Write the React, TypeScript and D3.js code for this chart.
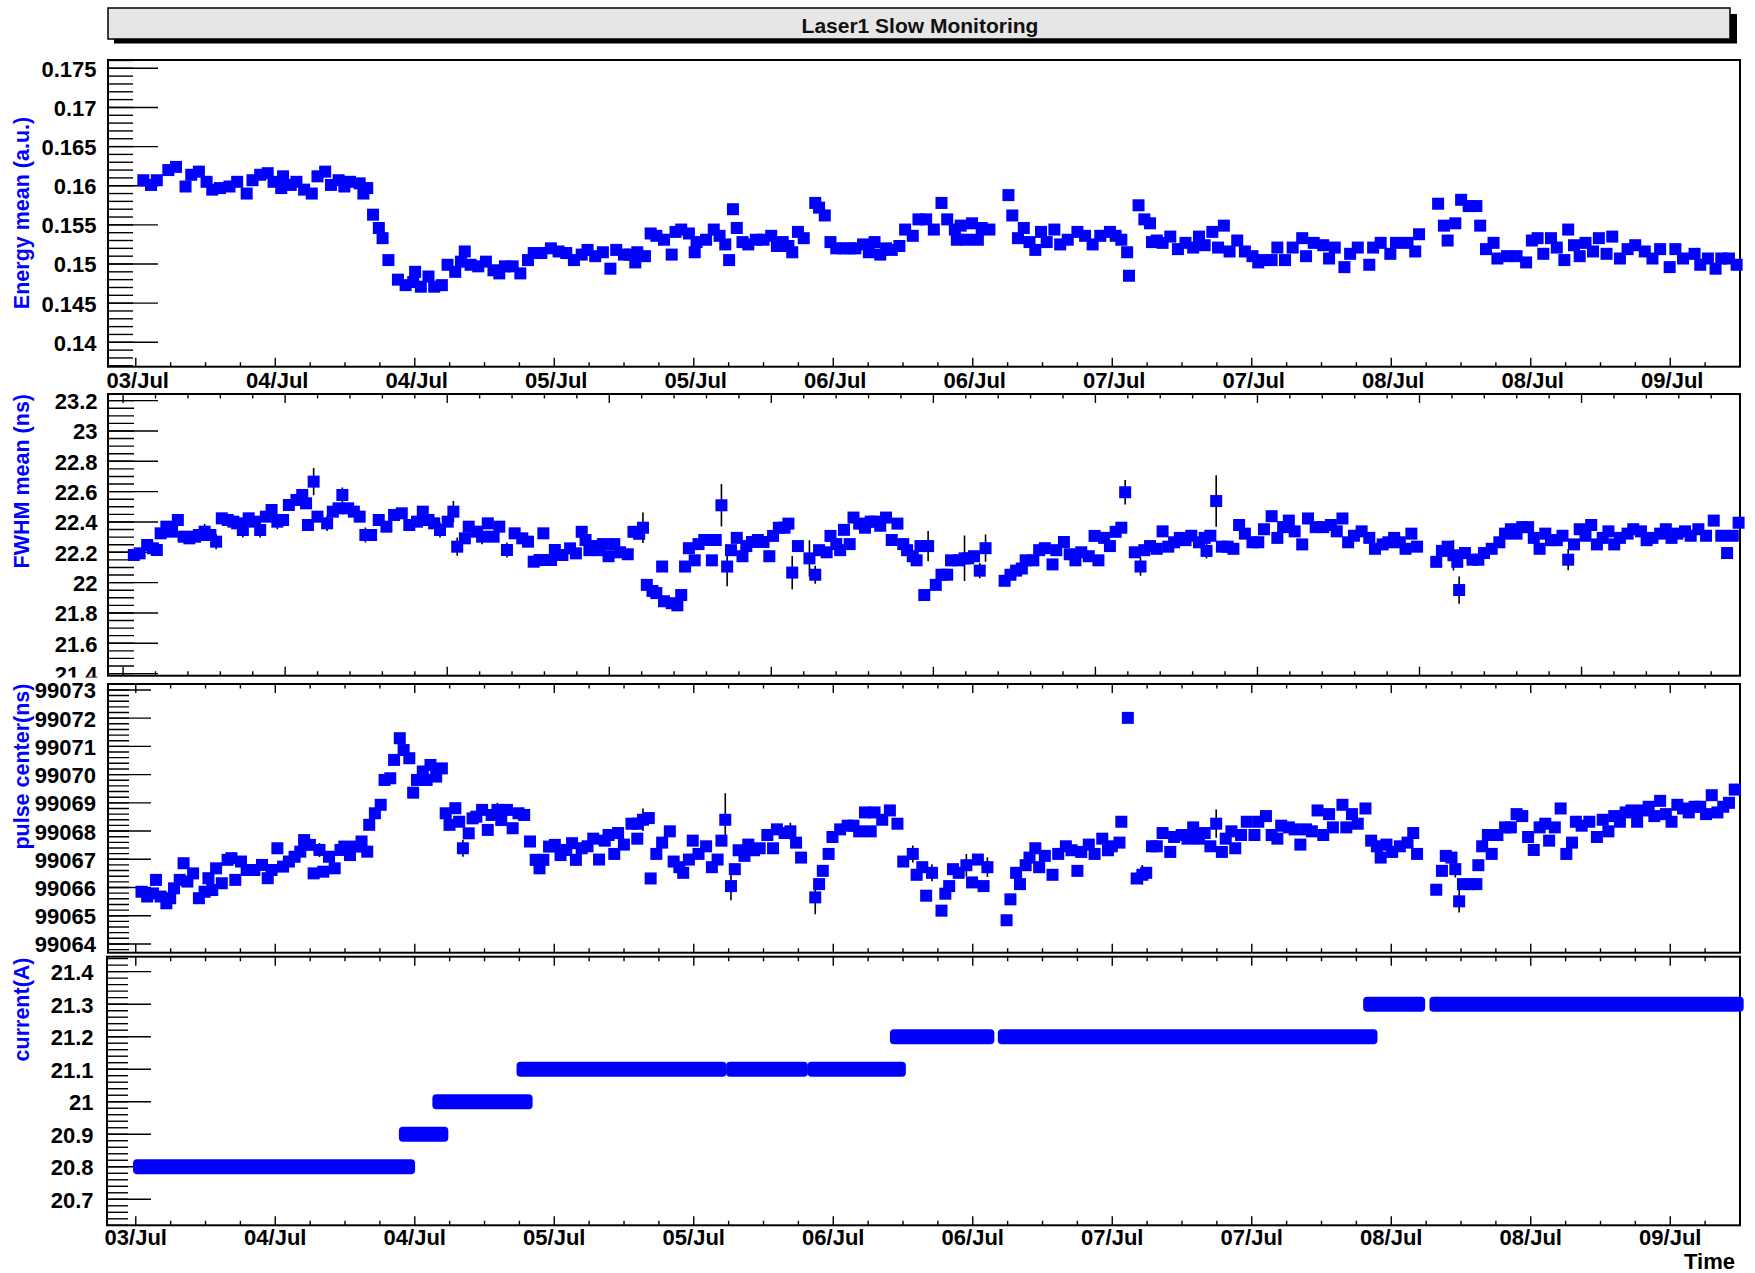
import React from "react";
import * as d3 from "d3";

if (typeof document !== "undefined" && document.body) {
  document.body.style.margin = "0";
}

// ---------- time axis (hours since 03/Jul 12:00) ----------
const T0 = Date.UTC(2011, 6, 3, 12, 0, 0);
const HOUR = 3600 * 1000;
const toDate = (h: number) => new Date(T0 + h * HOUR);
const timeStartHours = -2.39;
const timeEndHours = 138.0;

const dayTickHours = [0, 12, 24, 36, 48, 60, 72, 84, 96, 108, 120, 132];
const dayTickLabels = ["03/Jul", "04/Jul", "04/Jul", "05/Jul", "05/Jul", "06/Jul", "06/Jul", "07/Jul", "07/Jul", "08/Jul", "08/Jul", "09/Jul"];
const fwhmTickOrigin = -1.09;
const fwhmTickStep = 13.94;

// ---------- y ticks ----------
const energyTicks = [0.14, 0.145, 0.15, 0.155, 0.16, 0.165, 0.17, 0.175];
const energyTickLabels = ["0.14", "0.145", "0.15", "0.155", "0.16", "0.165", "0.17", "0.175"];
const fwhmTicks = [21.4, 21.6, 21.8, 22, 22.2, 22.4, 22.6, 22.8, 23, 23.2];
const fwhmTickLabels = ["21.4", "21.6", "21.8", "22", "22.2", "22.4", "22.6", "22.8", "23", "23.2"];
const pulseTicks = [99064, 99065, 99066, 99067, 99068, 99069, 99070, 99071, 99072, 99073];
const pulseTickLabels = ["99064", "99065", "99066", "99067", "99068", "99069", "99070", "99071", "99072", "99073"];
const currentTicks = [20.7, 20.8, 20.9, 21, 21.1, 21.2, 21.3, 21.4];
const currentTickLabels = ["20.7", "20.8", "20.9", "21", "21.1", "21.2", "21.3", "21.4"];

// ---------- data: [hours, value, error?] ----------
const energyMean: number[][] = [
  [0.65,0.1607],[1.31,0.1601],[1.81,0.1607],[2.80,0.1620],[3.46,0.1624],[4.28,0.1599],[4.77,0.1614],[5.43,0.1618],[6.09,0.1605],[6.58,0.1595],
  [7.24,0.1597],[8.06,0.1599],[8.72,0.1605],[9.54,0.1590],[10.04,0.1607],[10.70,0.1614],[11.35,0.1616],[11.85,0.1605],[12.51,0.1597],[12.67,0.1612],
  [13.33,0.1601],[13.82,0.1605],[14.48,0.1595],[15.14,0.1590],[15.63,0.1612],[16.29,0.1618],[16.79,0.1601],[17.45,0.1607],[17.94,0.1599],[18.43,0.1605],
  [19.26,0.1603],[19.58,0.1590],[19.91,0.1597],[20.41,0.1563],[20.91,0.1546],[21.23,0.1533],[21.73,0.1505],[22.55,0.1480],[23.21,0.1473],[23.87,0.1477],
  [24.03,0.1490],[24.52,0.1471],[25.18,0.1484],[25.67,0.1471],[26.33,0.1473],[26.82,0.1499],[27.48,0.1490],[27.97,0.1503],[28.30,0.1516],[28.80,0.1499],
  [29.46,0.1497],[30.12,0.1503],[30.77,0.1492],[31.27,0.1488],[31.76,0.1497],[32.42,0.1497],[33.08,0.1488],[33.74,0.1505],[34.23,0.1514],[34.89,0.1514],
  [35.71,0.1520],[36.37,0.1516],[37.03,0.1514],[37.69,0.1505],
  [38.36,0.1512],[38.86,0.1518],[39.52,0.1510],[40.18,0.1515],[40.83,0.1494],[41.33,0.1518],[41.99,0.1512],[42.48,0.1512],[42.97,0.1502],[43.14,0.1515],
  [43.80,0.1510],[44.29,0.1539],[44.78,0.1536],[45.44,0.1531],[46.10,0.1512],[46.43,0.1541],[46.92,0.1544],[47.58,0.1539],[48.08,0.1515],[48.24,0.1528],
  [49.06,0.1531],[49.72,0.1544],[50.22,0.1536],[50.71,0.1525],[51.04,0.1505],[51.37,0.1570],[51.70,0.1546],[52.19,0.1528],[52.69,0.1525],[53.34,0.1531],
  [54.00,0.1531],[54.66,0.1536],[55.15,0.1523],[55.65,0.1528],[56.14,0.1523],[56.47,0.1515],[56.96,0.1541],[57.46,0.1533],[58.45,0.1578],[58.78,0.1572],
  [59.27,0.1562],[59.76,0.1528],[60.26,0.1520],[60.92,0.1520],[61.41,0.1520],[61.90,0.1520],[62.56,0.1525],[63.06,0.1515],[63.55,0.1528],[64.04,0.1512],
  [64.54,0.1520],[65.03,0.1518],[65.69,0.1523],[66.18,0.1544],[66.84,0.1536],[67.33,0.1557],[67.99,0.1557],[68.65,0.1544],[69.31,0.1578],[69.80,0.1557],
  [70.46,0.1544],[70.63,0.1531],[70.96,0.1549],[71.45,0.1531],[71.94,0.1552],[72.44,0.1531],[72.77,0.1546],[73.43,0.1544],[75.07,0.1588],[75.40,0.1562],
  [75.89,0.1533],[76.39,0.1546],[76.88,0.1528],[77.38,0.1518],[77.87,0.1541],[78.36,0.1528],[79.02,0.1544],[79.52,0.1525],[80.17,0.1531],[81.00,0.1541],
  [81.66,0.1536],[82.31,0.1525],[82.97,0.1536],[83.80,0.1541],[84.29,0.1536],[84.78,0.1531],[85.28,0.1515],[85.44,0.1485],[86.26,0.1575],[86.76,0.1557],
  [87.25,0.1552],[87.42,0.1528],
  [87.83,0.1530],[88.33,0.1527],[88.99,0.1535],[89.65,0.1519],[90.30,0.1527],[90.96,0.1521],[91.46,0.1535],[91.95,0.1524],[92.61,0.1541],[93.10,0.1521],
  [93.60,0.1549],[94.09,0.1516],[94.75,0.1530],[95.41,0.1516],[96.06,0.1510],[96.56,0.1502],[97.05,0.1505],[97.71,0.1505],[98.20,0.1521],[98.86,0.1505],
  [99.52,0.1521],[100.34,0.1533],[100.67,0.1510],[101.33,0.1527],[102.15,0.1524],[102.65,0.1507],[103.14,0.1521],[103.97,0.1496],[104.46,0.1513],[105.12,0.1521],
  [106.11,0.1499],[106.44,0.1521],[107.09,0.1527],[107.92,0.1513],[108.41,0.1527],[109.40,0.1527],[110.06,0.1516],[110.39,0.1538],[112.03,0.1577],[112.53,0.1549],
  [112.85,0.1530],[113.51,0.1552],[114.01,0.1582],[114.66,0.1574],[115.32,0.1574],[115.65,0.1549],[116.15,0.1519],[116.80,0.1527],[117.13,0.1507],[117.96,0.1510],
  [118.78,0.1510],[119.60,0.1502],[120.10,0.1530],[120.59,0.1533],[121.08,0.1513],[121.74,0.1533],[122.24,0.1521],[122.89,0.1505],[123.22,0.1544],[123.72,0.1524],
  [124.21,0.1510],[124.71,0.1527],[125.36,0.1516],[125.86,0.1533],[126.52,0.1513],[127.01,0.1535],[127.67,0.1507],[128.33,0.1519],[128.99,0.1524],[129.81,0.1516],
  [130.47,0.1507],[131.13,0.1519],[131.95,0.1496],[132.44,0.1519],[133.10,0.1507],[134.09,0.1513],[134.58,0.1499],[135.24,0.1507],[135.90,0.1494],[136.39,0.1507],
  [137.05,0.1507],[137.71,0.1499],
];

const fwhmMean: number[][] = [
  [-0.17,22.182],[0.33,22.193],[0.98,22.248],[1.48,22.226],[1.81,22.215],[2.14,22.325],[2.63,22.369],[3.12,22.336],[3.62,22.413],[4.11,22.303],
  [4.61,22.292],[5.10,22.303],[5.43,22.314],[5.92,22.336,0.05],[6.42,22.314],[6.91,22.270,0.05],[7.40,22.424],[7.90,22.413],[8.39,22.402],[8.72,22.391],
  [9.21,22.347,0.05],[9.71,22.424],[10.20,22.402],[10.70,22.347,0.05],[11.19,22.435],[11.68,22.479],[12.18,22.402,0.05],[12.67,22.413],[13.17,22.512],[13.82,22.545],
  [14.32,22.578],[14.65,22.523],[15.30,22.666,0.09],[14.81,22.380],[15.63,22.435],[16.46,22.391,0.05],[16.95,22.468],[17.44,22.490],[17.77,22.578,0.05],[18.27,22.490],
  [18.76,22.468],[19.26,22.435],[19.75,22.314,0.05],[20.24,22.314],[20.90,22.413],[21.56,22.369],[22.22,22.446],[22.88,22.457],[23.53,22.380],[24.19,22.402],
  [24.69,22.468],[25.18,22.413],[25.67,22.391],[26.17,22.347,0.05],[26.83,22.402],[27.32,22.468,0.07],[27.65,22.237,0.06],[28.31,22.292],[28.64,22.369],[29.30,22.336],
  [29.79,22.303,0.05],[30.28,22.391],[30.78,22.303],[31.27,22.369],[31.93,22.215,0.05],[32.59,22.325],[33.25,22.292],[33.74,22.270],[34.23,22.138],[34.73,22.149],
  [35.06,22.325],[35.72,22.149],[36.05,22.215],[36.70,22.182],[37.36,22.226],[37.86,22.193],
  [38.36,22.335],[38.69,22.281],[39.02,22.214],[39.52,22.241],[39.85,22.214],[40.18,22.254],[40.67,22.174],[41.16,22.254],[41.66,22.200],[42.32,22.187],
  [42.81,22.335],[43.30,22.322],[43.63,22.362,0.1],[43.96,21.985],[44.45,21.945],[44.78,21.931],[45.28,22.106],[45.44,21.877],[46.10,21.864],[46.59,21.850],
  [46.92,21.918],[47.25,22.106],[47.58,22.227],[48.08,22.147],[48.41,22.254],[48.90,22.281],[49.56,22.147],[49.89,22.281],[50.38,22.510,0.14],[50.87,22.106,0.13],
  [51.20,22.214],[51.70,22.295],[52.19,22.174],[52.52,22.241],[53.01,22.268],[53.51,22.281],[54.00,22.268],[54.50,22.174],[54.82,22.308],[55.32,22.362],
  [55.81,22.362],[56.14,22.389],[56.47,22.066,0.11],[56.96,22.241],[57.95,22.160,0.12],[58.45,22.052,0.06],[58.78,22.214],[59.43,22.200],[59.76,22.308],[60.26,22.254],
  [60.59,22.214],[60.92,22.348],[61.41,22.254],[61.74,22.429],[62.23,22.389],[62.73,22.362],[63.22,22.402],[63.55,22.402],[64.04,22.375],[64.54,22.429],
  [65.03,22.281],[65.52,22.389],[66.02,22.254],[66.35,22.214],[66.84,22.174],[67.17,22.147],[67.50,22.241],[67.83,21.918],[68.16,22.241,0.1],[68.82,21.985],
  [69.31,22.052],[69.80,22.052],[70.13,22.147],[70.79,22.147],[71.29,22.160,0.15],[71.61,22.160],[72.11,22.174],[72.60,22.079,0.05],[73.10,22.227,0.09],[74.74,22.012],
  [75.24,22.052],[75.73,22.079],[76.22,22.093],[76.55,22.147],[77.21,22.147],[77.71,22.214],[78.20,22.227],[78.86,22.120],[79.19,22.214],[79.84,22.268],
  [80.34,22.187],[80.83,22.147],[81.33,22.200],[81.98,22.174],[82.48,22.308],[82.81,22.147],[83.30,22.295],[83.80,22.241],[84.29,22.335],[84.78,22.362],
  [85.11,22.596,0.08],[85.94,22.200],[86.43,22.106,0.06],[86.76,22.214],[87.25,22.241],
  [87.83,22.223],[88.33,22.338],[88.82,22.237],[89.32,22.266],[89.81,22.295],[90.30,22.280],[90.80,22.309],[91.46,22.266],[91.95,22.295],[92.11,22.209,0.05],
  [92.44,22.309],[92.94,22.538,0.17],[93.43,22.237],[93.93,22.237],[94.42,22.223],[94.91,22.380],[95.41,22.323],[96.06,22.266],[96.56,22.266],[97.05,22.352],
  [97.71,22.438],[98.20,22.295],[98.70,22.366],[99.19,22.409],[99.69,22.338],[100.34,22.252],[100.84,22.423],[101.50,22.366],[102.15,22.366],[102.81,22.380],
  [103.31,22.338],[103.80,22.423],[104.29,22.266],[104.79,22.309],[105.45,22.338],[106.11,22.295],[106.60,22.223],[107.26,22.252],[107.75,22.266],[108.25,22.295],
  [108.74,22.266],[109.23,22.223],[109.73,22.323],[110.22,22.237],[111.87,22.137],[112.36,22.209],[112.85,22.237],[113.35,22.180,0.1],[113.68,22.137],[113.84,21.951,0.09],
  [114.34,22.195],[114.99,22.151],[115.49,22.151],[115.98,22.195],[116.64,22.223],[117.30,22.266],[117.79,22.323],[118.29,22.352],[118.78,22.323],[119.27,22.366],
  [119.77,22.366],[120.26,22.295],[120.76,22.223],[121.25,22.323],[121.74,22.280],[122.24,22.280],[122.73,22.309],[123.22,22.151,0.07],[123.72,22.252],[124.21,22.352],
  [124.71,22.309],[125.20,22.380],[125.69,22.252],[126.19,22.295],[126.68,22.338],[127.18,22.252],[127.67,22.295],[128.33,22.323],[128.82,22.352],[129.48,22.338],
  [129.97,22.280],[130.47,22.295],[131.13,22.323],[131.62,22.352],[132.11,22.295],[132.61,22.323],[133.27,22.338],[133.76,22.309],[134.42,22.352],[135.08,22.309],
  [135.74,22.409],[136.39,22.309],[136.89,22.195],[137.38,22.309],[137.88,22.395],
];

const pulseCenter: number[][] = [
  [0.49,99065.85],[0.98,99065.68],[1.48,99065.79],[1.74,99066.27],[2.14,99065.68],[2.63,99065.44],[2.96,99065.62],[3.29,99065.97],[3.78,99066.27],[4.11,99066.86,0.2],
  [4.44,99066.21],[4.93,99066.50],[5.43,99065.62],[5.92,99065.85],[6.25,99066.33],[6.58,99065.91],[6.91,99066.68],[7.40,99066.15],[7.90,99066.98],[8.23,99067.04],
  [8.56,99066.27],[9.05,99066.92],[9.54,99066.62],[10.20,99066.62],[10.86,99066.80],[11.35,99066.33],[11.68,99066.62],[12.18,99067.39],[12.67,99066.74],[13.17,99066.92],
  [13.66,99067.09],[14.15,99067.27],[14.48,99067.68],[14.98,99067.51],[15.30,99066.50],[15.80,99067.33,0.25],[16.13,99066.56],[16.62,99067.09],[17.11,99066.68],[17.61,99067.33],
  [17.94,99067.45],[18.43,99067.15],[18.93,99067.45],[19.42,99067.63],[19.91,99067.27],[20.08,99068.22],[20.57,99068.63],[21.07,99068.93],[21.40,99069.81],[21.89,99069.87],
  [22.22,99070.52],[22.71,99071.29],[23.04,99070.87],[23.53,99070.58],[23.86,99069.36],[24.19,99069.81],[24.69,99070.11],[25.02,99069.81],[25.35,99070.34],[25.84,99069.93],
  [26.33,99070.22],[26.66,99068.63],[26.99,99068.22],[27.49,99068.81],[27.82,99068.33],[28.14,99067.39,0.3],[28.64,99067.92],[28.97,99068.45],[29.30,99068.51],[29.79,99068.75],
  [30.28,99068.04],[30.61,99068.57],[31.11,99068.75,0.25],[31.44,99068.39],[31.93,99068.75],[32.42,99068.10],[32.92,99068.63],[33.41,99068.57],[33.91,99067.63],[34.40,99066.98],
  [34.73,99066.68],[35.06,99066.98],[35.55,99067.45],[36.05,99067.51],[36.54,99067.15],[37.03,99067.33],[37.53,99067.57],[37.86,99066.98],
  [38.36,99067.39],[38.86,99067.46],[39.35,99067.73],[39.85,99066.99],[40.34,99067.66],[40.67,99067.86],[41.16,99067.19],[41.49,99067.93],[41.99,99067.52],[42.64,99068.26],
  [43.14,99068.26],[43.14,99067.73],[43.63,99068.40,0.4],[44.13,99068.46],[44.29,99066.32,0.2],[44.78,99067.19],[45.28,99067.59],[45.94,99067.99],[46.27,99066.92],[46.76,99066.72],
  [47.09,99066.52],[47.58,99066.99],[47.91,99067.66],[48.41,99067.19],[49.06,99067.46],[49.56,99066.72],[50.05,99066.99],[50.38,99067.66],[50.71,99068.40,0.94],[51.20,99066.05,0.5],
  [51.53,99066.65],[51.86,99067.32],[52.36,99067.12],[52.69,99067.52],[53.18,99067.32],[53.67,99067.39],[54.33,99067.86],[54.82,99067.39],[55.15,99068.06],[55.81,99067.93],
  [56.31,99067.99,0.3],[56.80,99067.59],[57.23,99067.06],[58.45,99065.65,0.6],[58.78,99066.12],[59.10,99066.59],[59.60,99067.19],[59.93,99067.79],[60.59,99068.06],[61.24,99068.19],
  [61.74,99068.19],[62.23,99067.99],[62.73,99068.66],[63.22,99067.99],[63.55,99068.66],[64.21,99068.40],[64.87,99068.73],[65.52,99068.26],[66.02,99066.92],[66.84,99067.19,0.3],
  [67.17,99066.45],[67.66,99066.72],[67.99,99065.71],[68.49,99066.52,0.3],[69.31,99065.18],[69.64,99065.78],[69.97,99066.05],[70.30,99066.65],[70.79,99066.52],[71.45,99066.79,0.4],
  [71.94,99066.18],[72.44,99066.99],[72.93,99066.05],[73.26,99066.72,0.35],[74.91,99064.84],[75.24,99065.58],[75.73,99066.52],[76.06,99066.12],[76.55,99066.79],[76.88,99067.06],
  [77.38,99067.39],[77.71,99066.72],[78.20,99067.12],[78.86,99066.45],[79.35,99067.19],[80.01,99067.46],[80.50,99067.32],[81.00,99066.59],[81.33,99067.26],[81.98,99067.52],
  [82.48,99067.19],[83.14,99067.73],[83.63,99067.32],[83.96,99067.46],[84.62,99067.59],[84.78,99068.33],[85.34,99072.01],[86.10,99066.32],[86.59,99066.45,0.35],[86.92,99066.52],
  [87.42,99067.46],
  [87.83,99067.46],[88.33,99067.93],[88.99,99067.26],[89.32,99067.79],[89.97,99067.86],[90.47,99067.73],[90.96,99068.13],[91.46,99067.73],[91.95,99067.93],[92.44,99067.46],
  [92.94,99068.26,0.5],[93.43,99067.26],[93.76,99067.73],[94.25,99067.99],[94.58,99067.39],[95.08,99067.86],[95.57,99068.33],[96.23,99067.86],[96.56,99068.33],[97.22,99068.53],
  [97.71,99067.86],[98.20,99067.73],[98.53,99068.19],[99.19,99068.13],[99.69,99068.06],[100.18,99067.52],[100.67,99068.06],[101.17,99067.99],[101.66,99068.73],[102.15,99067.86],
  [102.65,99068.60],[102.98,99068.13],[103.80,99068.93],[104.13,99068.13],[104.62,99068.60],[105.12,99068.26],[105.78,99068.80],[106.27,99067.66],[106.76,99067.46],[107.09,99067.06],
  [107.59,99067.52],[108.08,99067.26],[108.74,99067.46],[109.40,99067.59],[109.89,99067.93],[110.22,99067.19],[111.87,99065.92],[112.36,99066.59],[112.69,99067.12],[113.18,99067.06],
  [113.51,99066.65,0.3],[113.84,99065.51,0.4],[114.17,99066.12],[114.83,99066.12],[115.32,99066.12],[115.49,99066.79],[115.82,99067.46],[116.31,99067.86],[116.64,99067.19],[117.13,99067.86],
  [117.79,99068.13],[118.29,99068.13],[118.78,99068.60],[119.27,99068.53],[119.77,99067.79],[120.26,99067.33,0.2],[120.76,99068.13],[121.25,99068.26],[121.58,99067.66],[122.07,99068.13],
  [122.57,99068.80],[123.06,99067.19,0.2],[123.55,99067.59],[123.88,99068.33],[124.38,99068.19],[125.04,99068.33],[125.69,99067.79],[126.19,99068.40],[126.68,99067.99],[127.18,99068.53],
  [127.67,99068.33],[128.16,99068.66],[128.66,99068.73],[129.15,99068.33],[129.65,99068.73],[130.14,99068.86],[130.63,99068.53],[131.13,99069.07],[131.62,99068.60],[132.11,99068.33],
  [132.61,99068.93],[133.10,99068.80],[133.59,99068.66],[134.09,99068.86],[134.58,99068.86],[135.08,99068.60],[135.57,99069.27],[136.06,99068.66],[136.56,99068.86],[137.05,99069.00],
  [137.55,99069.47],
];

// laser current: constant-value runs (first / last sample hour, value)
const currentRunStart = [0.28, 23.15, 26.03, 33.27, 51.3, 58.3, 65.39, 74.67, 106.1, 111.8];
const currentRunEnd = [23.51, 26.37, 33.62, 50.3, 57.3, 65.73, 73.34, 106.3, 110.4, 137.8];
const currentRunValue = [20.8, 20.9, 21.0, 21.1, 21.1, 21.1, 21.2, 21.2, 21.3, 21.3];

// ---------- layout ----------
const W = 1755;
const H = 1273;
const X0 = 108;
const X1 = 1740;
const FONT = '"Liberation Sans", Arial, Helvetica, sans-serif';
const BLUE = "#0000ff";
const MARK = 12;

const x = d3.scaleUtc().domain([toDate(timeStartHours), toDate(timeEndHours)]).range([X0, X1]);

function timeTicks(origin: number, step: number, nMinor: number) {
  const ms = step / nMinor;
  const majors: number[] = [];
  const minors: number[] = [];
  const k0 = Math.ceil((timeStartHours - origin) / ms);
  const k1 = Math.floor((timeEndHours - 0.2 - origin) / ms);
  for (let k = k0; k <= k1; k++) {
    const h = origin + k * ms;
    if (((k % nMinor) + nMinor) % nMinor === 0) majors.push(h);
    else minors.push(h);
  }
  return { majors, minors };
}

function valueMinors(domain: number[], step: number) {
  const out: number[] = [];
  const i0 = Math.ceil(domain[0] / step - 1e-6);
  const i1 = Math.floor(domain[1] / step + 1e-6);
  for (let i = i0; i <= i1; i++) out.push(i * step);
  return out;
}

type PanelCfg = {
  id: string;
  top: number;
  bottom: number;
  padTop: number;
  padBottom: number;
  left: number;
  domain: number[];
  ticks: number[];
  tickLabels: string[];
  minorStep: number;
  yMajorLen: number;
  yMinorLen: number;
  labelX: number;
  title: string;
  titleAnchor: string;
  titleY: number;
  timeTickSet: { majors: number[]; minors: number[] };
  topTicks: boolean;
  timeLabelsY: number | null;
  timeLabelDx: number;
};

const dayTicks = timeTicks(0, 12, 4);
const fwhmTimeTicks = timeTicks(fwhmTickOrigin, fwhmTickStep, 5);

const panels: PanelCfg[] = [
  {
    id: "p1", top: 60, bottom: 366.7, padTop: 0, padBottom: 391, left: X0,
    domain: [0.13688, 0.17606], ticks: energyTicks, tickLabels: energyTickLabels, minorStep: 0.001,
    yMajorLen: 50, yMinorLen: 25, labelX: 96.5, title: "Energy mean (a.u.)", titleAnchor: "middle", titleY: 213,
    timeTickSet: dayTicks, topTicks: false, timeLabelsY: 388.3, timeLabelDx: 2,
  },
  {
    id: "p2", top: 394, bottom: 675.7, padTop: 391, padBottom: 677.6, left: X0,
    domain: [21.386, 23.244], ticks: fwhmTicks, tickLabels: fwhmTickLabels, minorStep: 0.05,
    yMajorLen: 50, yMinorLen: 26, labelX: 97.5, title: "FWHM mean (ns)", titleAnchor: "end", titleY: 394,
    timeTickSet: fwhmTimeTicks, topTicks: true, timeLabelsY: null, timeLabelDx: 0,
  },
  {
    id: "p3", top: 684, bottom: 952.7, padTop: 683, padBottom: 954.7, left: X0,
    domain: [99063.69, 99073.21], ticks: pulseTicks, tickLabels: pulseTickLabels, minorStep: 0.2,
    yMajorLen: 43, yMinorLen: 21, labelX: 96, title: "pulse center(ns)", titleAnchor: "end", titleY: 683.5,
    timeTickSet: dayTicks, topTicks: true, timeLabelsY: null, timeLabelDx: 0,
  },
  {
    id: "p4", top: 956.7, bottom: 1225.3, padTop: 954.7, padBottom: H, left: 107,
    domain: [20.62, 21.446], ticks: currentTicks, tickLabels: currentTickLabels, minorStep: 0.02,
    yMajorLen: 44, yMinorLen: 21, labelX: 93.5, title: "current(A)", titleAnchor: "end", titleY: 957.5,
    timeTickSet: dayTicks, topTicks: true, timeLabelsY: 1245, timeLabelDx: 0,
  },
];

function PanelAxes({ p, y }: { p: PanelCfg; y: d3.ScaleLinear<number, number> }) {
  const tickStroke = { stroke: "#000", strokeWidth: 1.4 };
  const minors = valueMinors(p.domain, p.minorStep);
  const xMaj = 9;
  const xMin = 4.5;
  return (
    <g>
      {minors.map((v, i) => (
        <line key={"ym" + i} x1={p.left} x2={p.left + p.yMinorLen} y1={y(v)} y2={y(v)} {...tickStroke} />
      ))}
      {p.ticks.map((v, i) => (
        <g key={"yM" + i}>
          <line x1={p.left} x2={p.left + p.yMajorLen} y1={y(v)} y2={y(v)} {...tickStroke} />
          <text x={p.labelX} y={y(v) + 8.5} textAnchor="end" fontFamily={FONT} fontWeight="bold" fontSize={22} fill="#000">
            {p.tickLabels[i]}
          </text>
        </g>
      ))}
      {p.timeTickSet.minors.map((h, i) => (
        <line key={"xbm" + i} x1={x(toDate(h))} x2={x(toDate(h))} y1={p.bottom} y2={p.bottom - xMin} {...tickStroke} />
      ))}
      {p.timeTickSet.majors.map((h, i) => (
        <line key={"xbM" + i} x1={x(toDate(h))} x2={x(toDate(h))} y1={p.bottom} y2={p.bottom - xMaj} {...tickStroke} />
      ))}
      {p.topTicks &&
        p.timeTickSet.minors.map((h, i) => (
          <line key={"xtm" + i} x1={x(toDate(h))} x2={x(toDate(h))} y1={p.top} y2={p.top + xMin} {...tickStroke} />
        ))}
      {p.topTicks &&
        p.timeTickSet.majors.map((h, i) => (
          <line key={"xtM" + i} x1={x(toDate(h))} x2={x(toDate(h))} y1={p.top} y2={p.top + xMaj} {...tickStroke} />
        ))}
      {p.timeLabelsY !== null &&
        dayTickHours.map((h, i) => (
          <text key={"xl" + i} x={x(toDate(h)) + p.timeLabelDx} y={p.timeLabelsY as number} textAnchor="middle"
            fontFamily={FONT} fontWeight="bold" fontSize={22} fill="#000">
            {dayTickLabels[i]}
          </text>
        ))}
      <text transform={`translate(29,${p.titleY}) rotate(-90)`} textAnchor={p.titleAnchor} fontFamily={FONT}
        fontWeight="bold" fontSize={21.5} fill={BLUE}>
        {p.title}
      </text>
      <rect x={p.left} y={p.top} width={X1 - p.left} height={p.bottom - p.top} fill="none" stroke="#000" strokeWidth={2} />
    </g>
  );
}

function Scatter({ data, y, defErr }: { data: number[][]; y: d3.ScaleLinear<number, number>; defErr: number }) {
  return (
    <g>
      {data.map((d, i) => {
        const cx = x(toDate(d[0]));
        const e = d.length > 2 ? d[2] : defErr;
        return <line key={"e" + i} x1={cx} x2={cx} y1={y(d[1] + e)} y2={y(d[1] - e)} stroke="#000" strokeWidth={1.6} />;
      })}
      {data.map((d, i) => (
        <rect key={"m" + i} x={x(toDate(d[0])) - MARK / 2} y={y(d[1]) - MARK / 2} width={MARK} height={MARK} fill={BLUE} />
      ))}
    </g>
  );
}

export default function App() {
  React.useLayoutEffect(() => {
    document.body.style.margin = "0";
  }, []);
  const ys = panels.map((p) => d3.scaleLinear().domain(p.domain).range([p.bottom, p.top]));
  return (
    <svg width={W} height={H} viewBox={`0 0 ${W} ${H}`}
      style={{ display: "block", background: "#fff", position: "absolute", left: 0, top: 0 }}>
      <defs>
        {panels.map((p) => (
          <clipPath key={p.id} id={"clip-" + p.id}>
            <rect x={0} y={p.padTop} width={W} height={p.padBottom - p.padTop} />
          </clipPath>
        ))}
      </defs>
      <rect x={0} y={0} width={W} height={H} fill="#fff" />

      {/* title pave */}
      <rect x={114} y={14} width={1623} height={29.5} fill="#000" />
      <rect x={108} y={8} width={1622} height={31} fill="#e6e6e6" stroke="#000" strokeWidth={1.5} />
      <text x={920} y={33} textAnchor="middle" fontFamily={FONT} fontWeight="bold" fontSize={21} fill="#111">
        Laser1 Slow Monitoring
      </text>

      {panels.map((p, pi) => (
        <g key={p.id} clipPath={`url(#clip-${p.id})`}>
          <PanelAxes p={p} y={ys[pi]} />
          {pi === 0 && <Scatter data={energyMean} y={ys[0]} defErr={0.0003} />}
          {pi === 1 && <Scatter data={fwhmMean} y={ys[1]} defErr={0.03} />}
          {pi === 2 && <Scatter data={pulseCenter} y={ys[2]} defErr={0.15} />}
          {pi === 3 &&
            currentRunValue.map((v, i) => {
              const xa = x(toDate(currentRunStart[i])) - 6;
              const xb = x(toDate(currentRunEnd[i])) + 6;
              return (
                <rect key={"c" + i} x={xa} y={ys[3](v) - 7.5} width={xb - xa} height={15} rx={4} ry={4} fill={BLUE} />
              );
            })}
        </g>
      ))}

      <text x={1735} y={1269} textAnchor="end" fontFamily={FONT} fontWeight="bold" fontSize={22} fill="#000">
        Time
      </text>
    </svg>
  );
}
